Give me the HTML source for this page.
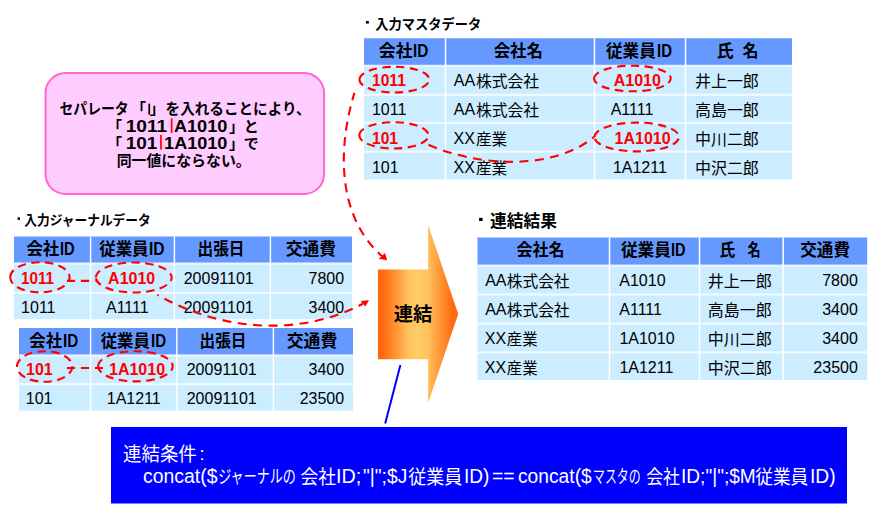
<!DOCTYPE html>
<html lang="ja"><head><meta charset="utf-8"><title>連結</title>
<style>
html,body{margin:0;padding:0;background:#fff}
body{width:881px;height:505px;position:relative;overflow:hidden;font-family:"Liberation Sans","Noto Sans CJK JP",sans-serif}
svg{position:absolute;left:0;top:0}
.l{position:absolute;white-space:nowrap;line-height:0;color:#000}
</style></head><body>
<svg width="881" height="505" viewBox="0 0 881 505">
<defs>
<linearGradient id="og" x1="0" y1="0" x2="1" y2="0">
<stop offset="0" stop-color="#ff6608"/><stop offset="0.07" stop-color="#ff6c10"/><stop offset="0.24" stop-color="#ff9a3a"/><stop offset="0.38" stop-color="#ffc35d"/><stop offset="0.5" stop-color="#ffcc66"/><stop offset="0.62" stop-color="#ffc35d"/><stop offset="0.76" stop-color="#ff9a3a"/><stop offset="0.93" stop-color="#ff6c10"/><stop offset="1" stop-color="#ff6608"/>
</linearGradient>
</defs>
<g>
<rect x="364" y="38.2" width="428" height="27.6" fill="#6699ff"/>
<rect x="364" y="65.8" width="428" height="29" fill="#ccecff"/>
<rect x="364" y="94.8" width="428" height="28.1" fill="#ccecff"/>
<rect x="364" y="122.9" width="428" height="28.8" fill="#ccecff"/>
<rect x="364" y="151.7" width="428" height="27.8" fill="#ccecff"/>
<rect x="14" y="236.5" width="338" height="27" fill="#6699ff"/>
<rect x="14" y="263.5" width="338" height="29.4" fill="#ccecff"/>
<rect x="14" y="292.9" width="338" height="26.3" fill="#ccecff"/>
<rect x="19" y="328" width="334" height="27.4" fill="#6699ff"/>
<rect x="19" y="355.4" width="334" height="28.8" fill="#ccecff"/>
<rect x="19" y="384.2" width="334" height="26.3" fill="#ccecff"/>
<rect x="477.5" y="237.5" width="389.7" height="28.1" fill="#6699ff"/>
<rect x="477.5" y="265.6" width="389.7" height="28.9" fill="#ccecff"/>
<rect x="477.5" y="294.5" width="389.7" height="29.1" fill="#ccecff"/>
<rect x="477.5" y="323.6" width="389.7" height="28.7" fill="#ccecff"/>
<rect x="477.5" y="352.3" width="389.7" height="27.8" fill="#ccecff"/>
<rect x="364" y="64.7" width="428" height="2.2" fill="#fff" fill-opacity="0.72"/>
<rect x="364" y="93.7" width="428" height="2.2" fill="#fff" fill-opacity="0.72"/>
<rect x="364" y="121.8" width="428" height="2.2" fill="#fff" fill-opacity="0.72"/>
<rect x="364" y="150.6" width="428" height="2.2" fill="#fff" fill-opacity="0.72"/>
<rect x="444.75" y="38.2" width="1.5" height="141.3" fill="#fff"/>
<rect x="593.75" y="38.2" width="1.5" height="141.3" fill="#fff"/>
<rect x="684.75" y="38.2" width="1.5" height="141.3" fill="#fff"/>
<rect x="14" y="262.4" width="338" height="2.2" fill="#fff" fill-opacity="0.72"/>
<rect x="14" y="291.8" width="338" height="2.2" fill="#fff" fill-opacity="0.72"/>
<rect x="89.9" y="236.5" width="1.4" height="82.7" fill="#fff"/>
<rect x="173.7" y="236.5" width="1.4" height="82.7" fill="#fff"/>
<rect x="269.7" y="236.5" width="1.4" height="82.7" fill="#fff"/>
<rect x="19" y="354.3" width="334" height="2.2" fill="#fff" fill-opacity="0.72"/>
<rect x="19" y="383.1" width="334" height="2.2" fill="#fff" fill-opacity="0.72"/>
<rect x="89.9" y="328" width="1.4" height="82.5" fill="#fff"/>
<rect x="176.1" y="328" width="1.4" height="82.5" fill="#fff"/>
<rect x="272.7" y="328" width="1.4" height="82.5" fill="#fff"/>
<rect x="477.5" y="264.5" width="389.7" height="2.2" fill="#fff" fill-opacity="0.72"/>
<rect x="477.5" y="293.4" width="389.7" height="2.2" fill="#fff" fill-opacity="0.72"/>
<rect x="477.5" y="322.5" width="389.7" height="2.2" fill="#fff" fill-opacity="0.72"/>
<rect x="477.5" y="351.2" width="389.7" height="2.2" fill="#fff" fill-opacity="0.72"/>
<rect x="608.75" y="237.5" width="1.5" height="142.6" fill="#fff"/>
<rect x="698.75" y="237.5" width="1.5" height="142.6" fill="#fff"/>
<rect x="782.45" y="237.5" width="1.5" height="142.6" fill="#fff"/>
</g>
<rect x="365.9" y="21" width="2.9" height="2.6" fill="#000"/>
<rect x="17.6" y="217.4" width="2.4" height="2.5" fill="#000"/>
<rect x="479.1" y="217.9" width="3.5" height="3.1" fill="#000"/>
<rect x="45.5" y="73" width="278.6" height="121" rx="20" ry="20" fill="#ffccff" stroke="#ff66cc" stroke-width="2"/>
<path d="M378 269.6H428.1V225L458.2 314L428.1 403V359.2H378Z" fill="url(#og)"/>
<rect x="111" y="427" width="736" height="76.5" fill="#0000ff"/>
<path d="M400.4 365L385.2 423.6" stroke="#0000ff" stroke-width="2" fill="none"/>
<g font-family="&quot;Liberation Sans&quot;, &quot;Noto Sans CJK JP&quot;, sans-serif" fill="#000">
<!-- master header -->
<g font-size="17" font-weight="bold">
<text x="378.8" y="57.1" textLength="33.7" lengthAdjust="spacingAndGlyphs">会社</text>
<text x="493.7" y="57.1" textLength="49.3" lengthAdjust="spacingAndGlyphs">会社名</text>
<text x="606" y="57.1" textLength="49.8" lengthAdjust="spacingAndGlyphs">従業員</text>
<text x="716.8" y="57.1" textLength="16.9" lengthAdjust="spacingAndGlyphs">氏</text>
<text x="742.4" y="57.1" textLength="16" lengthAdjust="spacingAndGlyphs">名</text>
<!-- journal headers -->
<text x="26.4" y="255.1" textLength="32.8" lengthAdjust="spacingAndGlyphs">会社</text>
<text x="99.2" y="255.1" textLength="49.4" lengthAdjust="spacingAndGlyphs">従業員</text>
<text x="197.5" y="255.1" textLength="46.9" lengthAdjust="spacingAndGlyphs">出張日</text>
<text x="285.7" y="255.1" textLength="50.2" lengthAdjust="spacingAndGlyphs">交通費</text>
<text x="29.3" y="347.1" textLength="32.8" lengthAdjust="spacingAndGlyphs">会社</text>
<text x="100.7" y="347.1" textLength="49.2" lengthAdjust="spacingAndGlyphs">従業員</text>
<text x="199.5" y="347.1" textLength="46.9" lengthAdjust="spacingAndGlyphs">出張日</text>
<text x="286.7" y="347.1" textLength="50.7" lengthAdjust="spacingAndGlyphs">交通費</text>
<!-- result header -->
<text x="516.5" y="256.4" textLength="48" lengthAdjust="spacingAndGlyphs">会社名</text>
<text x="620.9" y="256.4" textLength="50.1" lengthAdjust="spacingAndGlyphs">従業員</text>
<text x="719.4" y="256.4" textLength="15.7" lengthAdjust="spacingAndGlyphs">氏</text>
<text x="747.6" y="256.4" textLength="13.1" lengthAdjust="spacingAndGlyphs">名</text>
<text x="800.3" y="256.4" textLength="49.7" lengthAdjust="spacingAndGlyphs">交通費</text>
</g>
<!-- master rows -->
<g font-size="16">
<text x="475.9" y="86.9" textLength="63" lengthAdjust="spacingAndGlyphs">株式会社</text>
<text x="695" y="86.9" textLength="63.8" lengthAdjust="spacingAndGlyphs">井上一郎</text>
<text x="475.9" y="115.9" textLength="63" lengthAdjust="spacingAndGlyphs">株式会社</text>
<text x="695" y="115.9" textLength="63.8" lengthAdjust="spacingAndGlyphs">高島一郎</text>
<text x="475.9" y="144.9" textLength="31.3" lengthAdjust="spacingAndGlyphs">産業</text>
<text x="695" y="144.9" textLength="63.8" lengthAdjust="spacingAndGlyphs">中川二郎</text>
<text x="475.9" y="173.9" textLength="31.3" lengthAdjust="spacingAndGlyphs">産業</text>
<text x="695" y="173.9" textLength="63.8" lengthAdjust="spacingAndGlyphs">中沢二郎</text>
<!-- result rows -->
<text x="506.8" y="286.9" textLength="62.7" lengthAdjust="spacingAndGlyphs">株式会社</text>
<text x="707.7" y="286.9" textLength="64" lengthAdjust="spacingAndGlyphs">井上一郎</text>
<text x="506.8" y="315.9" textLength="62.7" lengthAdjust="spacingAndGlyphs">株式会社</text>
<text x="707.7" y="315.9" textLength="64" lengthAdjust="spacingAndGlyphs">高島一郎</text>
<text x="506.8" y="344.9" textLength="30.8" lengthAdjust="spacingAndGlyphs">産業</text>
<text x="707.7" y="344.9" textLength="64" lengthAdjust="spacingAndGlyphs">中川二郎</text>
<text x="506.8" y="373.9" textLength="30.8" lengthAdjust="spacingAndGlyphs">産業</text>
<text x="707.7" y="373.9" textLength="64" lengthAdjust="spacingAndGlyphs">中沢二郎</text>
</g>
<!-- section titles (bullet squares are the rects above) -->
<text x="375.2" y="28.7" font-size="14" font-weight="bold" textLength="106" lengthAdjust="spacingAndGlyphs">入力マスタデータ</text>
<text x="24.2" y="224.6" font-size="13.5" font-weight="bold" textLength="126.6" lengthAdjust="spacingAndGlyphs">入力ジャーナルデータ</text>
<text x="490.1" y="226.6" font-size="17" font-weight="bold" textLength="66.8" lengthAdjust="spacingAndGlyphs">連結結果</text>
<!-- pink note box -->
<g font-weight="bold">
<text x="59.5" y="113.5" font-size="15" textLength="69.2" lengthAdjust="spacingAndGlyphs">セパレータ</text>
<text x="131" y="113.5" font-size="15">「</text>
<text x="149.7" y="113.5" font-size="15">」</text>
<text x="165.6" y="113.5" font-size="15" textLength="145" lengthAdjust="spacingAndGlyphs">を入れることにより、</text>
<text x="106.9" y="131.8" font-size="15">「</text>
<text x="125.7" y="131.8" font-size="16" textLength="41.4" lengthAdjust="spacingAndGlyphs">1011</text>
<text x="173.9" y="131.8" font-size="16" textLength="53.5" lengthAdjust="spacingAndGlyphs">A1010</text>
<text x="228.9" y="131.8" font-size="15">」</text>
<text x="243.8" y="131.8" font-size="15">と</text>
<text x="106.9" y="148.7" font-size="15">「</text>
<text x="125.7" y="148.7" font-size="16" textLength="31.6" lengthAdjust="spacingAndGlyphs">101</text>
<text x="164.1" y="148.7" font-size="16" textLength="63.3" lengthAdjust="spacingAndGlyphs">1A1010</text>
<text x="228.9" y="148.7" font-size="15">」</text>
<text x="243.8" y="148.7" font-size="15">で</text>
<text x="116.7" y="165.6" font-size="15" textLength="134" lengthAdjust="spacingAndGlyphs">同一値にならない。</text>
<text x="393.8" y="321.2" font-size="19" textLength="38.6" lengthAdjust="spacingAndGlyphs">連結</text>
</g>
<!-- blue condition box -->
<g fill="#fff">
<text x="123.1" y="461" font-size="19" textLength="73.7" lengthAdjust="spacingAndGlyphs">連結条件</text>
<text x="218.2" y="483.2" font-size="18" textLength="77.7" lengthAdjust="spacingAndGlyphs">ジャーナルの</text>
<text x="300.6" y="483.7" font-size="19" textLength="35.5" lengthAdjust="spacingAndGlyphs">会社</text>
<text x="408.2" y="483.7" font-size="19" textLength="54.2" lengthAdjust="spacingAndGlyphs">従業員</text>
<text x="593" y="483.2" font-size="18" textLength="47.7" lengthAdjust="spacingAndGlyphs">マスタの</text>
<text x="646.2" y="483.7" font-size="19" textLength="33.7" lengthAdjust="spacingAndGlyphs">会社</text>
<text x="755.2" y="483.7" font-size="19" textLength="53.1" lengthAdjust="spacingAndGlyphs">従業員</text>
</g>
</g>
</svg>
<span class="l" style="left:412.77px;top:52px;font-size:17px;font-weight:bold;transform-origin:0 5px;transform:scale(0.9044,1.03);">ID</span>
<span class="l" style="left:656.99px;top:52px;font-size:17px;font-weight:bold;transform-origin:0 5px;transform:scale(0.8846,1.03);">ID</span>
<span class="l" style="left:371.82px;top:81px;font-size:16px;font-weight:bold;color:#ff0000;transform-origin:0 5px;transform:scale(0.975,1);">1011</span>
<span class="l" style="left:453.87px;top:81px;font-size:16px;">AA</span>
<span class="l" style="left:613.7px;top:81px;font-size:16px;font-weight:bold;color:#ff0000;">A1010</span>
<span class="l" style="left:371.98px;top:110px;font-size:16px;">1011</span>
<span class="l" style="left:453.87px;top:110px;font-size:16px;">AA</span>
<span class="l" style="left:610.67px;top:110px;font-size:16px;">A1111</span>
<span class="l" style="left:371.82px;top:139px;font-size:16px;font-weight:bold;color:#ff0000;transform-origin:0 5px;transform:scale(0.975,1);">101</span>
<span class="l" style="left:453.54px;top:139px;font-size:16px;">XX</span>
<span class="l" style="left:614.59px;top:139px;font-size:16px;font-weight:bold;color:#ff0000;">1A1010</span>
<span class="l" style="left:371.98px;top:168px;font-size:16px;">101</span>
<span class="l" style="left:453.54px;top:168px;font-size:16px;">XX</span>
<span class="l" style="left:612.88px;top:168px;font-size:16px;">1A1211</span>
<span class="l" style="left:59.62px;top:250px;font-size:17px;font-weight:bold;transform-origin:0 5px;transform:scale(0.8647,1.03);">ID</span>
<span class="l" style="left:148.86px;top:250px;font-size:17px;font-weight:bold;transform-origin:0 5px;transform:scale(0.9176,1.03);">ID</span>
<span class="l" style="left:20.74px;top:279px;font-size:16px;font-weight:bold;color:#ff0000;transform-origin:0 5px;transform:scale(0.9519,1);">1011</span>
<span class="l" style="left:108.1px;top:279px;font-size:16px;font-weight:bold;color:#ff0000;">A1010</span>
<span class="l" style="left:183.7px;top:279px;font-size:16px;">20091101</span>
<span class="l" style="left:308.53px;top:279px;font-size:16px;">7800</span>
<span class="l" style="left:21.08px;top:308px;font-size:16px;">1011</span>
<span class="l" style="left:105.97px;top:308px;font-size:16px;">A1111</span>
<span class="l" style="left:183.7px;top:308px;font-size:16px;">20091101</span>
<span class="l" style="left:308.53px;top:308px;font-size:16px;">3400</span>
<span class="l" style="left:62.58px;top:342px;font-size:17px;font-weight:bold;transform-origin:0 5px;transform:scale(0.8978,1.03);">ID</span>
<span class="l" style="left:150.79px;top:342px;font-size:17px;font-weight:bold;transform-origin:0 5px;transform:scale(0.8912,1.03);">ID</span>
<span class="l" style="left:25.99px;top:370px;font-size:16px;font-weight:bold;color:#ff0000;">101</span>
<span class="l" style="left:108.99px;top:370px;font-size:16px;font-weight:bold;color:#ff0000;">1A1010</span>
<span class="l" style="left:186.7px;top:370px;font-size:16px;">20091101</span>
<span class="l" style="left:308.53px;top:370px;font-size:16px;">3400</span>
<span class="l" style="left:25.78px;top:399px;font-size:16px;">101</span>
<span class="l" style="left:106.78px;top:399px;font-size:16px;">1A1211</span>
<span class="l" style="left:186.7px;top:399px;font-size:16px;">20091101</span>
<span class="l" style="left:299.63px;top:399px;font-size:16px;">23500</span>
<span class="l" style="left:671.22px;top:251px;font-size:17px;font-weight:bold;transform-origin:0 5px;transform:scale(0.8581,1.03);">ID</span>
<span class="l" style="left:485.17px;top:281px;font-size:16px;">AA</span>
<span class="l" style="left:619.27px;top:281px;font-size:16px;">A1010</span>
<span class="l" style="left:822.23px;top:281px;font-size:16px;">7800</span>
<span class="l" style="left:485.17px;top:310px;font-size:16px;">AA</span>
<span class="l" style="left:619.27px;top:310px;font-size:16px;">A1111</span>
<span class="l" style="left:822.23px;top:310px;font-size:16px;">3400</span>
<span class="l" style="left:484.84px;top:339px;font-size:16px;">XX</span>
<span class="l" style="left:619.38px;top:339px;font-size:16px;">1A1010</span>
<span class="l" style="left:822.23px;top:339px;font-size:16px;">3400</span>
<span class="l" style="left:484.84px;top:368px;font-size:16px;">XX</span>
<span class="l" style="left:619.38px;top:368px;font-size:16px;">1A1211</span>
<span class="l" style="left:813.33px;top:368px;font-size:16px;">23500</span>
<span class="l" style="left:199.46px;top:454px;font-size:18px;color:#fff;">:</span>
<span class="l" style="left:142.88px;top:476px;font-size:20px;color:#fff;transform-origin:0 7px;transform:scale(0.9704,1);">concat($</span>
<span class="l" style="left:336.27px;top:476px;font-size:20px;color:#fff;transform-origin:0 7px;transform:scale(0.9902,1);">ID;</span>
<span class="l" style="left:362.68px;top:476px;font-size:20px;color:#fff;transform-origin:0 7px;transform:scale(0.9602,1);">&quot;|&quot;;$J</span>
<span class="l" style="left:463.64px;top:476px;font-size:20px;color:#fff;transform-origin:0 7px;transform:scale(0.9544,1);">ID)</span>
<span class="l" style="left:491.96px;top:476px;font-size:20px;color:#fff;transform-origin:0 7px;transform:scale(0.9674,1);">==</span>
<span class="l" style="left:517.78px;top:476px;font-size:20px;color:#fff;transform-origin:0 7px;transform:scale(0.9611,1);">concat($</span>
<span class="l" style="left:680.54px;top:476px;font-size:20px;color:#fff;transform-origin:0 7px;transform:scale(0.9545,1);">ID;&quot;|&quot;;$M</span>
<span class="l" style="left:809.52px;top:476px;font-size:20px;color:#fff;transform-origin:0 7px;transform:scale(0.9629,1);">ID)</span>
<svg width="881" height="505" viewBox="0 0 881 505">
<rect x="148.4" y="103.6" width="1.7" height="11" fill="#000"/>
<rect x="170.8" y="118.3" width="1.7" height="14.6" fill="#ff0000"/>
<rect x="160.1" y="135" width="1.7" height="14.6" fill="#ff0000"/>
<path d="M359.5 79.65A34.9 12.85 0 1 1 429.3 79.65A34.9 12.85 0 1 1 359.5 79.65" fill="none" stroke="#ff0000" stroke-width="2.1" stroke-dasharray="8.3 5.4" />
<path d="M359.3 135.35A34.6 13.15 0 1 1 428.5 135.35A34.6 13.15 0 1 1 359.3 135.35" fill="none" stroke="#ff0000" stroke-width="2.1" stroke-dasharray="8.3 5.4" />
<path d="M594.05 78.5A38.35 12.8 0 1 1 670.75 78.5A38.35 12.8 0 1 1 594.05 78.5" fill="none" stroke="#ff0000" stroke-width="2.1" stroke-dasharray="8.3 5.4" />
<path d="M594.5 137A42.2 14.4 0 1 1 678.9 137A42.2 14.4 0 1 1 594.5 137" fill="none" stroke="#ff0000" stroke-width="2.1" stroke-dasharray="8.3 5.4" />
<path d="M10.2 277.3A29.7 15.1 0 1 1 69.6 277.3A29.7 15.1 0 1 1 10.2 277.3" fill="none" stroke="#ff0000" stroke-width="2.1" stroke-dasharray="8.3 5.4" />
<path d="M95.9 277.5A37.9 15 0 1 1 171.7 277.5A37.9 15 0 1 1 95.9 277.5" fill="none" stroke="#ff0000" stroke-width="2.1" stroke-dasharray="8.3 5.4" />
<path d="M16.9 366.5A27.7 15.3 0 1 1 72.3 366.5A27.7 15.3 0 1 1 16.9 366.5" fill="none" stroke="#ff0000" stroke-width="2.1" stroke-dasharray="8.3 5.4" />
<path d="M98.1 366.3A37.3 15.1 0 1 1 172.7 366.3A37.3 15.1 0 1 1 98.1 366.3" fill="none" stroke="#ff0000" stroke-width="2.1" stroke-dasharray="8.3 5.4" />
<path d="M381.9 256C336.5 215.9 337.8 147.3 354.4 92.9" fill="none" stroke="#ff0000" stroke-width="2.1" stroke-dasharray="9 6.5" stroke-dashoffset="3.5"/>
<path d="M423.2 142.3C472 165.8 549.7 172.7 594.2 136.9" fill="none" stroke="#ff0000" stroke-width="2.1" stroke-dasharray="9 6.5" stroke-dashoffset="9.5"/>
<path d="M66.9 280.9H95.4" fill="none" stroke="#ff0000" stroke-width="2.1" stroke-dasharray="8.2 5.8"/>
<path d="M66.9 368H103" fill="none" stroke="#ff0000" stroke-width="2.1" stroke-dasharray="8.2 5.8"/>
<path d="M362.9 303.8C298 337.9 218.7 330 157.3 294.8" fill="none" stroke="#ff0000" stroke-width="2.1" stroke-dasharray="9 6.5" stroke-dashoffset="4.2"/>
<path d="M387 260.3L378.8 258.7L385.1 253Z" fill="#ff0000"/>
<path d="M369 300.2L360.6 300.9L365.3 306.5Z" fill="#ff0000"/>
</svg>
</body></html>
